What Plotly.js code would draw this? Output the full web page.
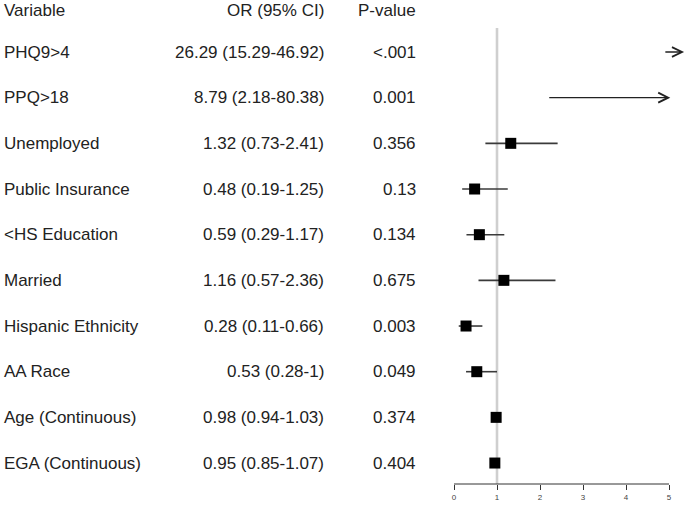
<!DOCTYPE html>
<html>
<head>
<meta charset="utf-8">
<script src="https://cdn.plot.ly/plotly-3.0.1.min.js"></script>
<style>html,body{margin:0;padding:0;background:#fff;}#chart{width:685px;height:506px;}</style>
</head>
<body>
<div id="chart"></div>
<script>
const variables = ["PHQ9>4","PPQ>18","Unemployed","Public Insurance","<HS Education","Married","Hispanic Ethnicity","AA Race","Age (Continuous)","EGA (Continuous)"];
const orValues = [26.29, 8.79, 1.32, 0.48, 0.59, 1.16, 0.28, 0.53, 0.98, 0.95];
const lowerCI = [15.29, 2.18, 0.73, 0.19, 0.29, 0.57, 0.11, 0.28, 0.94, 0.85];
const upperCI = [46.92, 80.38, 2.41, 1.25, 1.17, 2.36, 0.66, 1.00, 1.03, 1.07];
const orLabels = ["26.29 (15.29-46.92)","8.79 (2.18-80.38)","1.32 (0.73-2.41)","0.48 (0.19-1.25)","0.59 (0.29-1.17)","1.16 (0.57-2.36)","0.28 (0.11-0.66)","0.53 (0.28-1)","0.98 (0.94-1.03)","0.95 (0.85-1.07)"];
const pLabels = ["<.001","0.001","0.356","0.13","0.134","0.675","0.003","0.049","0.374","0.404"];
const headers = ["Variable","OR (95% CI)","P-value"];
const tickValues = [0,1,2,3,4,5];
const clipMax = 5;

const W = 685, H = 506;
const FONT = "Liberation Sans, Arial, sans-serif";
const txtColor = "#222";
const rows = variables.map((v,i)=>i);

const ciX = [], ciY = [];
const mX = [], mY = [];
const arrows = [];
rows.forEach(i=>{
  if (upperCI[i] <= clipMax) {
    ciX.push(lowerCI[i], upperCI[i], null);
    ciY.push(i, i, null);
  } else if (lowerCI[i] < clipMax) {
    arrows.push({tail: lowerCI[i], head: clipMax + 0.03, y: i});
  } else {
    arrows.push({tail: clipMax - 0.12, head: clipMax + 0.35, y: i});
  }
  if (orValues[i] <= clipMax) { mX.push(orValues[i]); mY.push(i); }
});

const traces = [
  {type:'scatter', mode:'lines', x: ciX, y: ciY, line:{color:'#3a3a3a', width:1.6}, hoverinfo:'skip', showlegend:false},
  {type:'scatter', mode:'markers', x: mX, y: mY, marker:{symbol:'square', size:11, color:'#000'}, hoverinfo:'skip', showlegend:false}
];

const annotations = [];
const hdrY = 1 - 10/ (H-22);
const colX = [2/W, 326/W, 418/W];
const colAnchor = ['left','right','right'];
headers.forEach((h,k)=>{
  annotations.push({xref:'paper', yref:'paper', x: colX[k], y: hdrY, text: h, showarrow:false, xanchor: colAnchor[k], yanchor:'middle', font:{family:FONT, size:17, color:txtColor}});
});
rows.forEach(i=>{
  [variables[i], orLabels[i], pLabels[i]].forEach((t,k)=>{
    annotations.push({xref:'paper', yref:'y', x: colX[k], y: i, text: t.replace(/</g,'&lt;').replace(/>/g,'&gt;'), showarrow:false, xanchor: colAnchor[k], yanchor:'middle', font:{family:FONT, size:17, color:txtColor}});
  });
});
arrows.forEach(a=>{
  annotations.push({xref:'x', yref:'y', axref:'x', ayref:'y', x: a.head, y: a.y, ax: a.tail, ay: a.y, text:'', showarrow:true, arrowhead:5, arrowsize:1.5, arrowwidth:1.3, arrowcolor:'#222', standoff:0, startstandoff:0});
});

const shapes = [
  {type:'line', xref:'x', yref:'paper', x0:1, x1:1, y0:0, y1:1 - 28/(H-22), line:{color:'#cfcfcf', width:2.6}, layer:'below'},
  {type:'line', xref:'x', yref:'paper', x0:tickValues[0], x1:tickValues[tickValues.length-1], y0:0, y1:0, line:{color:'#333', width:1}}
];

const xLeft = 454, pxPerUnit = 43;
const layout = {
  width: W, height: H,
  margin: {l:0, r:0, t:0, b:22, pad:0},
  paper_bgcolor:'#fff', plot_bgcolor:'#fff',
  showlegend:false,
  xaxis: {domain:[xLeft/W, 1], range:[0, (W - xLeft)/pxPerUnit], showgrid:false, zeroline:false, showline:false,
          ticks:'outside', ticklen:5, tickwidth:1, tickcolor:'#333', tickvals: tickValues, ticktext: tickValues.map(String),
          tickfont:{family:FONT, size:8, color:'#444'}, fixedrange:true},
  yaxis: {domain:[0,1], range:[(484-52)/45.67, -52/45.67], showgrid:false, zeroline:false, showline:false, showticklabels:false, ticks:'', fixedrange:true},
  annotations: annotations,
  shapes: shapes
};

Plotly.newPlot('chart', traces, layout, {displayModeBar:false, staticPlot:true});
</script>
</body>
</html>
